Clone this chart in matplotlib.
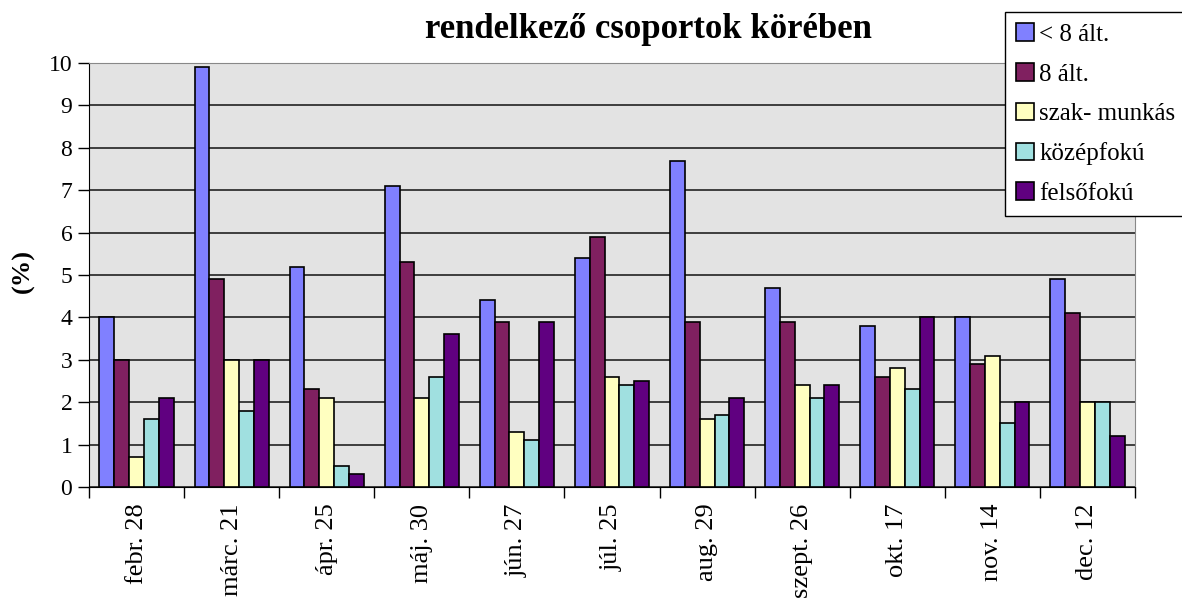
import matplotlib
matplotlib.use("Agg")
import matplotlib.pyplot as plt
import numpy as np
from matplotlib.patches import Patch

categories = ["febr. 28", "márc. 21", "ápr. 25", "máj. 30", "jún. 27", "júl. 25",
              "aug. 29", "szept. 26", "okt. 17", "nov. 14", "dec. 12"]
series_names = ["< 8 ált.", "8 ált.", "szak- munkás", "középfokú", "felsőfokú"]
lt8 = [4.0, 9.9, 5.2, 7.1, 4.4, 5.4, 7.7, 4.7, 3.8, 4.0, 4.9]
alt8 = [3.0, 4.9, 2.3, 5.3, 3.9, 5.9, 3.9, 3.9, 2.6, 2.9, 4.1]
szakmunkas = [0.7, 3.0, 2.1, 2.1, 1.3, 2.6, 1.6, 2.4, 2.8, 3.1, 2.0]
kozepfoku = [1.6, 1.8, 0.5, 2.6, 1.1, 2.4, 1.7, 2.1, 2.3, 1.5, 2.0]
felsofoku = [2.1, 3.0, 0.3, 3.6, 3.9, 2.5, 2.1, 2.4, 4.0, 2.0, 1.2]
colors = ["#8080FF", "#802060", "#FFFFC0", "#A0E0E0", "#600080"]
yticks = list(range(0, 11))

plt.rcParams['font.family'] = ['Liberation Serif', 'DejaVu Serif']

fig = plt.figure(figsize=(11.82, 5.99), dpi=100)
ax = fig.add_axes([89/1182, 1-487/599, (1135-89)/1182, (487-63)/599])
ax.set_facecolor("#E3E3E3")

data = [lt8, alt8, szakmunkas, kozepfoku, felsofoku]
x = np.arange(len(categories))
w = 0.156
for i, (vals, c) in enumerate(zip(data, colors)):
    ax.bar(x + (i - 2) * w, vals, width=w, color=c, edgecolor="black", linewidth=1.2, zorder=3)

ax.set_xlim(-0.5, len(categories) - 0.5)
ax.set_ylim(0, 10)
ax.set_yticks(yticks)
ax.yaxis.grid(True, color="#222222", linewidth=1.2, zorder=0)
ax.set_axisbelow(True)

ax.set_xticks(np.arange(-0.5, len(categories), 1.0))
ax.set_xticklabels([])
ax.set_xticks(x, minor=True)
ax.set_xticklabels(categories, minor=True, rotation=90, fontsize=19)
ax.tick_params(axis="x", which="minor", length=0, pad=12)
ax.tick_params(axis="x", which="major", length=8, width=1, direction="out")
ax.tick_params(axis="y", length=8, width=1, labelsize=17, direction="out", pad=4)

for s in ["top", "right"]:
    ax.spines[s].set_color("#888888")
ax.spines["left"].set_color("black")
ax.spines["bottom"].set_color("black")

ax.set_ylabel("(%)", fontsize=19, fontweight="bold")
ax.yaxis.set_label_coords(-54/1046, 0.51)

fig.text(648/1182, 1-30/599, "rendelkező csoportok körében", ha="center", va="center",
         fontsize=25, fontweight="bold")

handles = [Patch(facecolor=c, edgecolor="black", linewidth=1.2) for c in colors]
leg = fig.legend(handles, series_names, loc="upper left", bbox_to_anchor=(1005/1182, 1-12/599),
                 fontsize=18, frameon=True, fancybox=False, edgecolor="black", framealpha=1,
                 handlelength=0.72, handleheight=0.72, handletextpad=0.2, labelspacing=0.68,
                 borderpad=0.45, borderaxespad=0)
leg.get_frame().set_linewidth(1.0)

fig.savefig("out.png", dpi=100)
